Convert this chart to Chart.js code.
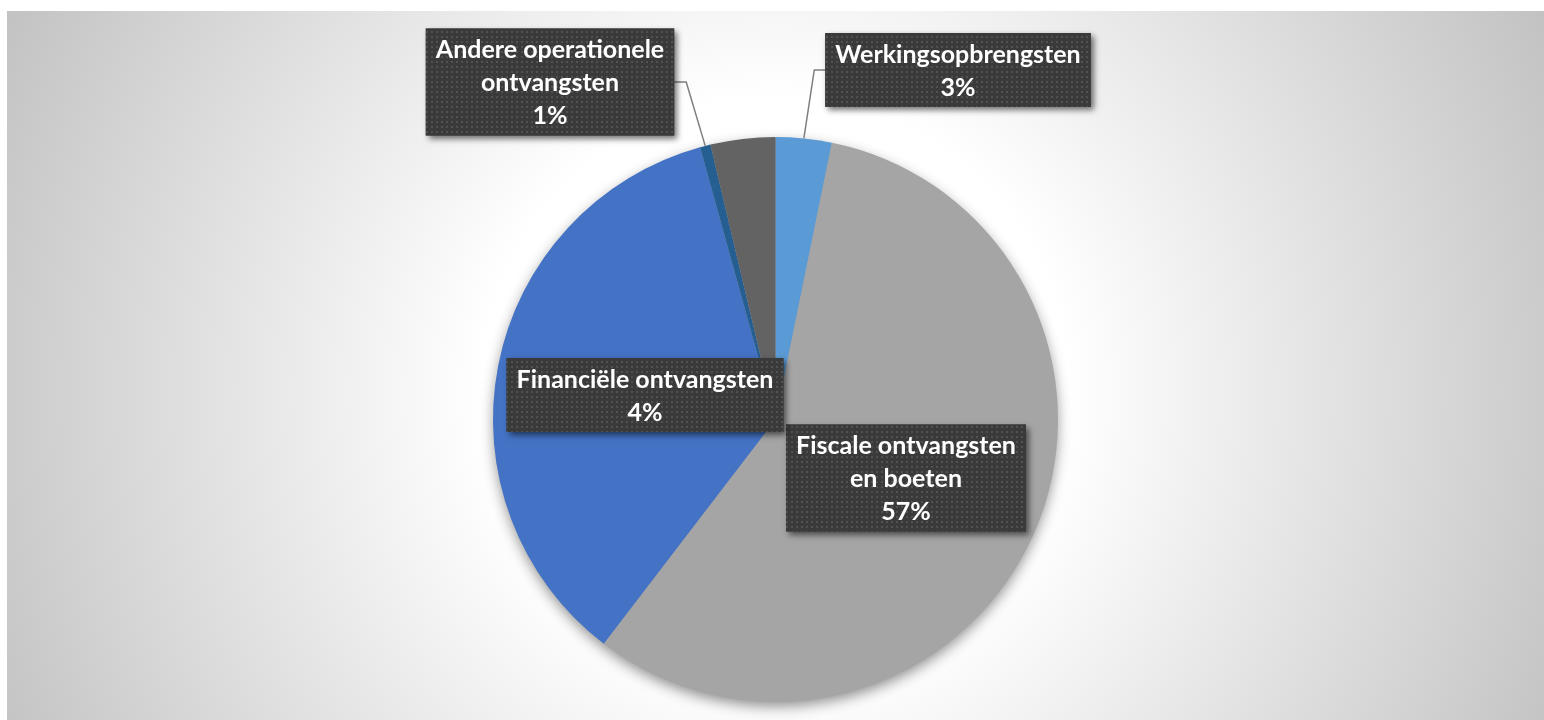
<!DOCTYPE html>
<html lang="nl">
<head>
<meta charset="utf-8">
<title>Ontvangsten</title>
<script src="https://cdn.jsdelivr.net/npm/chart.js@4.4.1/dist/chart.umd.min.js"></script>
<style>
  html, body { margin: 0; padding: 0; background: #fff; }
  #wrap { width: 1544px; height: 720px; position: relative; }
</style>
</head>
<body>
<div id="wrap"><canvas id="myChart"></canvas></div>
<script>
// Categorieën (met de klok mee vanaf 12 uur)
const categories = [
  "Werkingsopbrengsten",
  "Fiscale ontvangsten en boeten",
  "Werkingssubsidies",
  "Andere operationele ontvangsten",
  "Financiële ontvangsten",
];
// Aandeel in de ontvangsten (%)
const values = [3.2, 57.2, 35.3, 0.6, 3.7];
const colors = ["#5B9BD5", "#A5A5A5", "#4472C4", "#255E91", "#636363"];

// Labelvakken: middelpunt, wrapbreedte en kant van de verbindingslijn
const labelBoxes = [
  { index: 0, cx: 958, cy: 70, wrap: 400, leader: "left" },
  { index: 1, cx: 906, cy: 478, wrap: 232 },
  { index: 3, cx: 550, cy: 82, wrap: 245, leader: "right" },
  { index: 4, cx: 645, cy: 395, wrap: 400 },
];
const LINE_H = 33;
const LABEL_FONT = "bold 25px Lato";

// Achtergrond met radiaal verloop
const backgroundPlugin = {
  id: "background",
  beforeDraw(chart) {
    const c = chart.ctx;
    c.save();
    c.fillStyle = "#fff";
    c.fillRect(0, 0, chart.width, chart.height);
    const g = c.createRadialGradient(775, 390, 0, 775, 390, 860);
    g.addColorStop(0, "#ffffff");
    g.addColorStop(0.34, "#ffffff");
    g.addColorStop(1, "#c2c2c2");
    c.fillStyle = g;
    c.fillRect(7, 11, chart.width - 7, chart.height - 11);
    c.restore();
  },
};

// Zachte schaduw onder de taart
const pieShadowPlugin = {
  id: "pieShadow",
  beforeDatasetsDraw(chart) {
    const arc = chart.getDatasetMeta(0).data[0];
    if (!arc) return;
    const { x, y, outerRadius } = arc.getProps(["x", "y", "outerRadius"], true);
    const c = chart.ctx;
    c.save();
    c.shadowColor = "rgba(0,0,0,0.45)";
    c.shadowBlur = 14;
    c.shadowOffsetY = 5;
    c.fillStyle = "#a5a5a5";
    c.beginPath();
    c.arc(x, y, outerRadius - 1, 0, Math.PI * 2);
    c.fill();
    c.restore();
  },
};

function wrapText(c, text, maxWidth) {
  const words = text.split(" ");
  const lines = [];
  let cur = "";
  words.forEach((w) => {
    const test = cur ? cur + " " + w : w;
    if (cur && c.measureText(test).width > maxWidth) {
      lines.push(cur);
      cur = w;
    } else {
      cur = test;
    }
  });
  if (cur) lines.push(cur);
  return lines;
}

let dotPattern = null;
function getPattern(c) {
  if (dotPattern) return dotPattern;
  const p = document.createElement("canvas");
  p.width = 5;
  p.height = 5;
  const pc = p.getContext("2d");
  pc.fillStyle = "#3a3a3a";
  pc.fillRect(0, 0, 5, 5);
  pc.fillStyle = "#515151";
  pc.fillRect(1, 1, 2, 2);
  dotPattern = c.createPattern(p, "repeat");
  return dotPattern;
}

// Donkere labelvakken met naam en percentage
const labelPlugin = {
  id: "sliceLabels",
  afterDatasetsDraw(chart) {
    const c = chart.ctx;
    const meta = chart.getDatasetMeta(0);
    const total = values.reduce((a, b) => a + b, 0);
    c.save();
    c.font = LABEL_FONT;
    labelBoxes.forEach((b) => {
      const lines = wrapText(c, categories[b.index], b.wrap);
      lines.push(Math.round((values[b.index] / total) * 100) + "%");
      const w = Math.max(...lines.map((l) => c.measureText(l).width)) + 20;
      const h = lines.length * LINE_H + 8;
      const left = b.cx - w / 2;
      const top = b.cy - h / 2;

      if (b.leader) {
        const arc = meta.data[b.index];
        const p = arc.getProps(["x", "y", "startAngle", "endAngle", "outerRadius"], true);
        const mid = (p.startAngle + p.endAngle) / 2;
        const ex = p.x + Math.cos(mid) * p.outerRadius;
        const ey = p.y + Math.sin(mid) * p.outerRadius;
        const sx = b.leader === "left" ? left : left + w;
        const kx = b.leader === "left" ? sx - 11 : sx + 12;
        c.strokeStyle = "#7f7f7f";
        c.lineWidth = 1.5;
        c.beginPath();
        c.moveTo(sx, b.cy);
        c.lineTo(kx, b.cy);
        c.lineTo(ex, ey);
        c.stroke();
      }

      c.save();
      c.shadowColor = "rgba(0,0,0,0.55)";
      c.shadowBlur = 6;
      c.shadowOffsetX = 3;
      c.shadowOffsetY = 3;
      c.fillStyle = "#3a3a3a";
      c.fillRect(left, top, w, h);
      c.restore();
      c.fillStyle = getPattern(c);
      c.fillRect(left, top, w, h);

      c.fillStyle = "#ffffff";
      c.textAlign = "center";
      c.textBaseline = "middle";
      lines.forEach((l, i) => {
        c.fillText(l, b.cx, top + 4 + LINE_H * (i + 0.5) + 1);
      });
    });
    c.restore();
  },
};

const config = {
  type: "pie",
  data: {
    labels: categories,
    datasets: [
      {
        data: values,
        backgroundColor: colors,
        borderWidth: 0,
        hoverOffset: 0,
        offset: 0,
      },
    ],
  },
  options: {
    responsive: true,
    maintainAspectRatio: false,
    animation: false,
    layout: { padding: { left: 7, right: 0, top: 137, bottom: 18 } },
    plugins: {
      legend: { display: false },
      tooltip: { enabled: false },
    },
  },
  plugins: [backgroundPlugin, pieShadowPlugin, labelPlugin],
};

const ctx = document.getElementById("myChart").getContext("2d");
new Chart(ctx, config);
</script>
</body>
</html>
